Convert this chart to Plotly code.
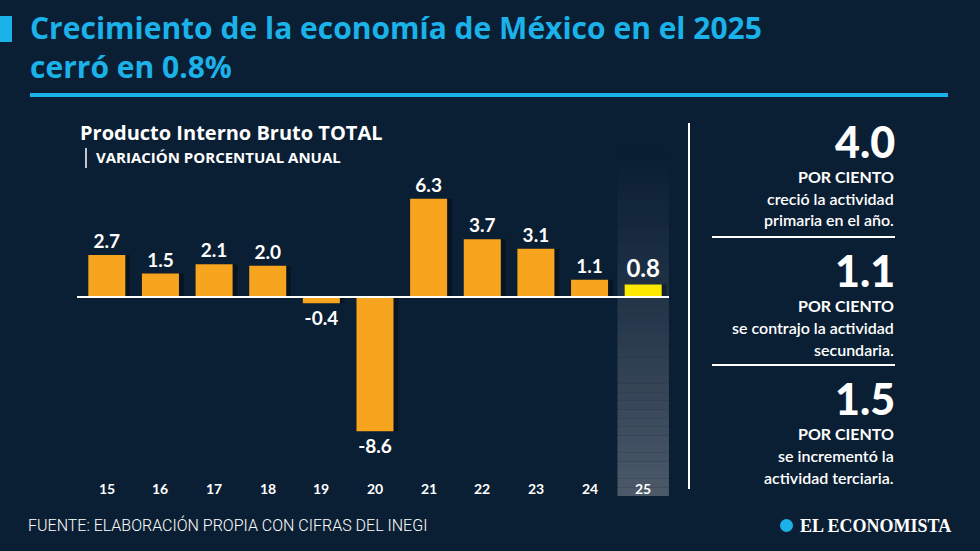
import plotly.graph_objects as go

# ---- data ----
years = ["15", "16", "17", "18", "19", "20", "21", "22", "23", "24", "25"]
growth = [2.7, 1.5, 2.1, 2.0, -0.4, -8.6, 6.3, 3.7, 3.1, 1.1, 0.8]
highlight_year = "25"

side_values = ["4.0", "1.1", "1.5"]
side_lines = [
    ["POR CIENTO", "creció la actividad", "primaria en el año."],
    ["POR CIENTO", "se contrajo la actividad", "secundaria."],
    ["POR CIENTO", "se incrementó la", "actividad terciaria."],
]

title_lines = ["Crecimiento de la economía de México en el 2025", "cerró en 0.8%"]
subtitle1 = "Producto Interno Bruto TOTAL"
subtitle2 = "VARIACIÓN PORCENTUAL ANUAL"
source_text = "FUENTE: ELABORACIÓN PROPIA CON CIFRAS DEL INEGI"
logo_text = "EL ECONOMISTA"

# ---- styles ----
W, H = 980, 551
BG = "#0b1f34"
CYAN = "#1ab2e8"
ORANGE = "#f7a51e"
YELLOW = "#fde900"
FONT = "Lato, 'Open Sans', sans-serif"
WIDE = "'Open Sans', Lato, sans-serif"


def px(x):
    return x / W


def py(y):
    return 1 - y / H


x_idx = list(range(len(years)))
hi = years.index(highlight_year)
colors = [YELLOW if y == highlight_year else ORANGE for y in years]
labels = [f"{v:.1f}" for v in growth]
lab_sizes = [24 if y == highlight_year else 19 for y in years]

fig = go.Figure()

# shadow bars
fig.add_trace(go.Bar(
    x=[i + 0.09 for i in x_idx], y=growth, width=0.69,
    marker=dict(color="rgba(0,0,0,0.35)", line=dict(width=0)),
    hoverinfo="skip", showlegend=False,
))
fig.add_trace(go.Bar(
    x=x_idx, y=growth, width=0.69,
    marker=dict(color=colors, line=dict(width=0)),
    text=labels, textposition="outside", cliponaxis=False,
    textfont=dict(family=FONT, color="white", size=lab_sizes, weight="bold"),
    constraintext="none",
    showlegend=False,
))

shapes = []
# highlight band gradient
band_top, band_bot = 150, 496
n = 40
for k in range(n):
    y0 = band_top + (band_bot - band_top) * k / n
    y1 = band_top + (band_bot - band_top) * (k + 1) / n
    a = 0.85 * ((k + 0.5) / n) ** 1.2
    shapes.append(dict(
        type="rect", xref="x", yref="paper", layer="below",
        x0=hi - 0.48, x1=hi + 0.48, y0=py(y1), y1=py(y0),
        fillcolor=f"rgba(88,101,116,{a:.3f})", line=dict(width=0),
    ))
# zero line
shapes.append(dict(type="line", xref="paper", yref="y", x0=px(77), x1=px(669),
                   y0=0, y1=0, line=dict(color="white", width=2)))
# title accent and rule
shapes.append(dict(type="rect", xref="paper", yref="paper", x0=0, x1=px(12),
                   y0=py(42), y1=py(16), fillcolor=CYAN, line=dict(width=0)))
shapes.append(dict(type="line", xref="paper", yref="paper", x0=px(30), x1=px(948),
                   y0=py(95), y1=py(95), line=dict(color=CYAN, width=4)))
# subtitle pipe
shapes.append(dict(type="line", xref="paper", yref="paper", x0=px(86), x1=px(86),
                   y0=py(148), y1=py(168), line=dict(color="white", width=1.5)))
# vertical divider
shapes.append(dict(type="line", xref="paper", yref="paper", x0=px(689), x1=px(689),
                   y0=py(123), y1=py(489), line=dict(color="white", width=2)))
# side separators
for yy in (237, 365):
    shapes.append(dict(type="line", xref="paper", yref="paper", x0=px(712), x1=px(895),
                       y0=py(yy), y1=py(yy), line=dict(color="white", width=2)))

ann = []
ann.append(dict(x=px(28), y=py(47), xref="paper", yref="paper", xanchor="left",
                yanchor="middle", text="<br>".join(title_lines), showarrow=False, align="left",
                font=dict(family=WIDE, size=30, color=CYAN, weight="bold")))
ann.append(dict(x=px(78), y=py(132), xref="paper", yref="paper", xanchor="left", yanchor="middle",
                text=subtitle1, showarrow=False,
                font=dict(family=WIDE, size=20, color="white", weight="bold")))
ann.append(dict(x=px(94), y=py(157), xref="paper", yref="paper", xanchor="left", yanchor="middle",
                text=subtitle2, showarrow=False,
                font=dict(family=WIDE, size=15, color="white", weight="bold")))
# year labels
for i, yr in enumerate(years):
    ann.append(dict(x=i, y=py(488), xref="x", yref="paper", xanchor="center", yanchor="middle",
                    text=yr, showarrow=False,
                    font=dict(family=FONT, size=14, color="white", weight="bold")))
# side panel
blocks_y = [141, 270, 398]
for bv, lines, y0 in zip(side_values, side_lines, blocks_y):
    ann.append(dict(x=px(897), y=py(y0), xref="paper", yref="paper", xanchor="right", yanchor="middle",
                    text=bv, showarrow=False,
                    font=dict(family=FONT, size=43, color="white", weight=900)))
    for j, ln in enumerate(lines):
        ann.append(dict(x=px(896), y=py(y0 + 35 + 22 * j), xref="paper", yref="paper",
                        xanchor="right", yanchor="middle", text=ln, showarrow=False,
                        font=dict(family=FONT, size=16, color="white",
                                  weight="bold" if j == 0 else 600)))
# footer
ann.append(dict(x=px(26), y=py(525), xref="paper", yref="paper", xanchor="left", yanchor="middle",
                text=source_text, showarrow=False,
                font=dict(family="Roboto, sans-serif", size=16, color="white", weight=300)))
ann.append(dict(x=px(953), y=py(526), xref="paper", yref="paper", xanchor="right", yanchor="middle",
                text=logo_text, showarrow=False,
                font=dict(family="'Liberation Serif', 'DejaVu Serif', serif", size=18,
                          color="white", weight="bold")))
shapes.append(dict(type="circle", xref="paper", yref="paper", x0=px(780), x1=px(793),
                   y0=py(532), y1=py(519), fillcolor=CYAN, line=dict(width=0)))

fig.update_layout(
    width=W, height=H, margin=dict(l=0, r=0, t=0, b=0),
    paper_bgcolor=BG, plot_bgcolor="rgba(0,0,0,0)",
    barmode="overlay", showlegend=False,
    xaxis=dict(domain=[px(80), px(670)], range=[-0.5, 10.5], visible=False, fixedrange=True),
    yaxis=dict(domain=[py(496), py(150)], range=[-12.75, 9.42], visible=False, fixedrange=True),
    shapes=shapes, annotations=ann,
)

fig.write_html("out.html")
